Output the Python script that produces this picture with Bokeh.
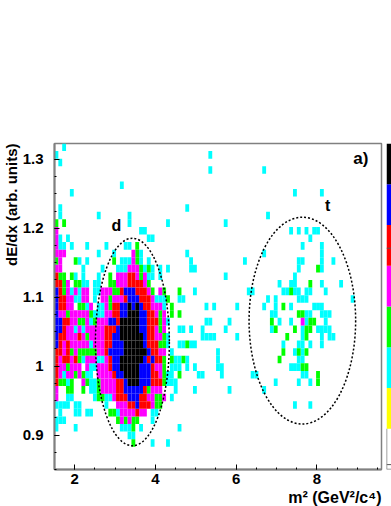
from bokeh.plotting import figure
from bokeh.layouts import row
from bokeh.models import FixedTicker, Label, Range1d, Title
from bokeh.embed import file_html
from bokeh.resources import INLINE

# 2-D histogram: rows from the top, columns from the left.
# . empty, c cyan, g green, m magenta, r red, b blue, k black
left_rows = [
    "..c..", "c....", ".c...", "", "",
    "..... ..... ..... ..c..",
    "....c",
    "",
    ".c... ..... ..... ..... ..... ..... ....c",
    ".c... ..... .c... ....c",
    "g.g.. ..... ..... ....c ..... ....c",
    "m.... ..... ..... ..... ..cc.",
    "mc.c. ..... ..... ..... ....c c",
    "mcc.c ...c. ...c. ...cc .g",
    "mmm.. ..... .c... c.... mgc.. ..... ....c",
    "gm... gc.c. ..... g.ccc mgc.c ..... ..... c",
    "mm... ..c.. ..c.. .cccm mmgcg c.c.c ..... cc",
    "rgg.g c.c.. .c..g .mmmr rmgmc c.c.. .....",
    "rrgm. ggcc. cc..g gmmmr rrrmg .....",
    "brgmc mcmm. ccmmm ggrbb brrrm g.mg. ..g.. .c...",
    "brrmm ccmm. c.mmg mmmrb bbrrr mcccg ..cc.",
    "brrmm .ggcm .ccmg rrbbk bkbrr mmmc. g.... ....c",
    "bmmgm mmmmg cccmm rrbbk kkbbr rmgm. g.g..",
    "bbrrm mggmc gmmmb brkkk kkbbr rrgmc ..... ....c",
    "bbrmm cmcmm mmmrr rbkkk kkbbr rmgm. ..cc. c..c.",
    "brrmm mrmgm mmmrr bbkkk kkkbr rmmgc ..... ...cc",
    "brmrm mmmmc mmmrr bbbkk kkkbr rrggc ..ccg cc...",
    "rrmrg mgggg gmmrb bbbkk kkkkb rrmm. c",
    "rmrrm rgcmm mccmr bbkkk kkkbr brrg. gccgc",
    "rmmgm mm.mc cmmmr bbkkk kkbbb rmmg. ccc.c .c...",
    "rmcmm gmgcc .mmmm rbbkk kkbbb rrmgc c.g.. ..cc.",
    "rggcg ..mgc cgmmm mrrbk kkbbb rrrgc cc...",
    "m..gg ..g.c cgmmm mrrbb bbbrg mmm.. .c... .c...",
    "m..cc ..... cggcc mrrrb bbrrm mggm. c",
    "cccc. cc... ...c. .mmmr rbrrr mgg..",
    ".c... cc.cc ....g gcmmm mrmm. cc",
    "ccc.. ..... ..... .gmgm gg... c",
    "c.... c.... ..... ..ccc g.c.. ..... ..c..",
    "..... ..... ..... ....c c",
    "..... ..... ..... ..... g.... c...c",
]
# right-hand part of the histogram: row -> columns
right_cyan = {
    1: [40], 3: [40, 54], 6: [62, 69], 9: [55], 10: [44], 11: [61, 63, 65, 67, 68],
    12: [66], 13: [64, 69], 14: [54, 69], 15: [49, 63, 64, 69, 72], 16: [63, 69],
    17: [44, 62], 18: [58, 61, 62, 69, 74], 19: [50, 51, 59, 60, 62, 63, 65, 66, 70],
    20: [55, 57, 63, 64, 65, 77], 21: [41, 47, 54, 57, 61, 67, 68, 69],
    22: [56, 57, 65, 66, 69, 70, 71], 23: [40, 45, 58, 61, 65, 70],
    24: [44, 56, 64, 68, 69, 70, 71], 25: [40, 41, 47, 64, 69, 71, 72],
    26: [59, 63, 64, 66, 69], 27: [42, 62, 64], 28: [42, 63, 64],
    29: [42, 43, 61, 62, 63], 30: [43, 51, 52, 64, 65], 31: [57, 63, 66],
    32: [45, 54], 34: [62, 66],
}
right_green = {
    16: [68], 18: [66], 19: [61], 21: [59], 22: [63, 64], 23: [56, 66, 67],
    24: [57, 62, 65, 66], 25: [60, 65], 27: [59, 63, 65], 28: [58], 29: [64, 65],
    30: [68], 31: [68],
}
right_magenta = {23: [64]}

level_colors = {"c": "#00ffff", "g": "#00ff00", "m": "#ff00ff",
                "r": "#ff0000", "b": "#0000ff", "k": "#000000"}
colorbar_colors = ["#ffffff", "#ffff00", "#00ffff", "#00ff00",
                   "#ff00ff", "#ff0000", "#0000ff", "#000000"]
colorbar_ticks = [0.12, 5.43]

x_first, x_bin, x_bins = 1.5, 0.0953, 85
y_top, y_bin, y_bins = 1.323, 0.011, 43
x_ticks, x_minor = [2, 4, 6, 8], [1.5 + 0.5 * i for i in range(17)]
y_ticks, y_minor = [0.9, 1.0, 1.1, 1.2, 1.3], [0.85 + 0.025 * i for i in range(20)]
y_names = {0.9: "0.9", 1.0: "1", 1.1: "1.1", 1.2: "1.2", 1.3: "1.3"}
deuteron = dict(x=3.43, y=1.035, width=1.83, height=0.301)
triton = dict(x=7.64, y=1.066, width=2.64, height=0.30)

W, H = 386, 506
FONT = "Liberation Sans"
GRAY = "#808080"

cells = {c: [] for c in level_colors}
for j, text in enumerate(left_rows):
    for i, ch in enumerate(text.replace(" ", "")):
        if ch in cells:
            cells[ch].append((i, j))
for name, table in (("c", right_cyan), ("g", right_green), ("m", right_magenta)):
    for j, cols in table.items():
        cells[name].extend((i, j) for i in cols)

p = figure(width=W, height=H, output_backend="svg", toolbar_location=None,
           x_range=Range1d(x_first, x_first + x_bin * x_bins),
           y_range=Range1d(y_top - y_bin * y_bins, y_top),
           min_border_left=54, min_border_right=5, min_border_top=143,
           min_border_bottom=H - 469, background_fill_color="white",
           border_fill_color="white")
p.grid.visible = False
p.outline_line_color = GRAY
p.outline_line_width = 1.5

for name, items in cells.items():
    if items:
        p.quad(left=[x_first + x_bin * i for i, _ in items],
               right=[x_first + x_bin * (i + 1) for i, _ in items],
               top=[y_top - y_bin * j for _, j in items],
               bottom=[y_top - y_bin * (j + 1) for _, j in items],
               fill_color=level_colors[name], line_color=None)

for e in (deuteron, triton):
    p.ellipse(x=[e["x"]], y=[e["y"]], width=[e["width"]], height=[e["height"]],
              fill_color=None, line_color="black", line_width=1.5, line_dash="2 2")

for ax, major, minor in ((p.xaxis, x_ticks, x_minor), (p.yaxis, y_ticks, y_minor)):
    ax.ticker = FixedTicker(ticks=major, minor_ticks=minor)
    ax.axis_line_color = GRAY
    ax.axis_line_width = 2
    ax.major_tick_line_color = "black"
    ax.minor_tick_line_color = "black"
    ax.major_tick_in, ax.major_tick_out = 5, 0
    ax.minor_tick_in, ax.minor_tick_out = 2, 0
    ax.major_label_text_font = FONT
    ax.major_label_text_font_style = "bold"
    ax.major_label_text_font_size = "15px"
    ax.major_label_text_color = "black"
p.yaxis.major_label_overrides = y_names
p.xaxis.major_label_standoff = 4
p.yaxis.major_label_standoff = 11

def note(text, x, y, size):
    p.add_layout(Label(x=x, y=y, text=text, text_font=FONT, text_font_style="bold",
                       text_font_size=size, text_color="black"))

note("a)", 8.9, 1.288, "17px")
note("d", 2.91, 1.191, "16px")
note("t", 8.2, 1.22, "16px")

def edge_title(text, side, size):
    p.add_layout(Title(text=text, align="right", text_font=FONT, text_font_style="bold",
                       text_font_size=size, text_color="black", standoff=0,
                       text_line_height=0.9), side)

edge_title("m\u00b2 (GeV\u00b2/c\u2074)", "below", "16px")
edge_title("dE/dx (arb. units)", "left", "15px")

q = figure(width=5, height=H, output_backend="svg", toolbar_location=None,
           x_range=Range1d(0, 1), y_range=Range1d(0, len(colorbar_colors)),
           min_border_left=0, min_border_right=0, min_border_top=143,
           min_border_bottom=H - 469, x_axis_location=None, y_axis_location=None,
           background_fill_color="white", border_fill_color="white")
q.grid.visible = False
q.outline_line_color = None
q.quad(left=0, right=1, bottom=list(range(len(colorbar_colors))),
       top=list(range(1, len(colorbar_colors) + 1)), fill_color=colorbar_colors, line_color=None)
q.segment(x0=[0, 0], x1=[1, 1], y0=colorbar_ticks, y1=colorbar_ticks, line_color="#555555", line_width=1)
q.segment(x0=[0, 0], x1=[0, 1], y0=[0, 0], y1=[1, 0], line_color=GRAY, line_width=1.5)

layout = row(p, q, spacing=0)
open("out.html", "w").write(file_html(layout, INLINE))
